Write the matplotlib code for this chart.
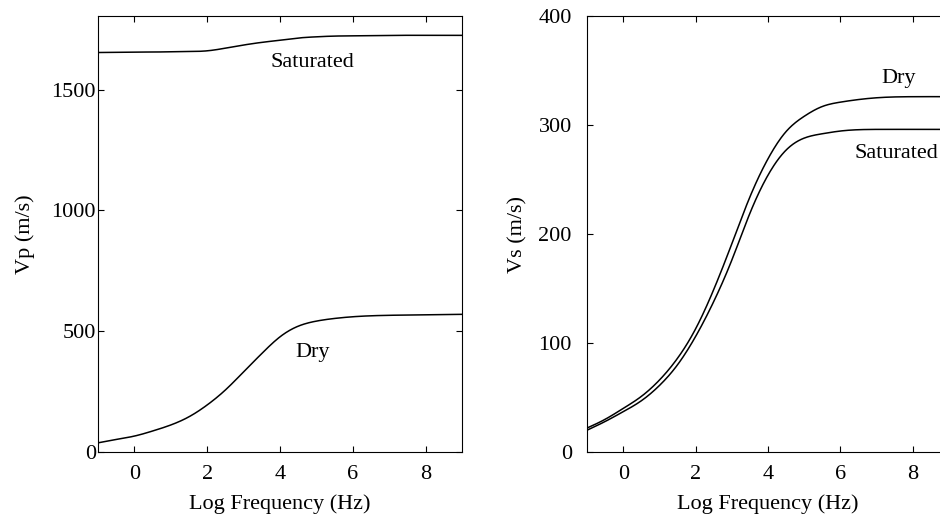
import matplotlib
matplotlib.use("Agg")
import matplotlib.pyplot as plt
import numpy as np

plt.rcParams["font.family"] = ["Liberation Serif", "DejaVu Serif"]
plt.rcParams["font.size"] = 16

# log frequency sample points (log10 Hz)
log_freq = [-1, -0.5, 0, 0.5, 1, 1.5, 2, 2.5, 3, 3.5, 4, 4.5, 5, 5.5, 6, 7, 8, 9]

# Vp (m/s)
vp_saturated = [1654, 1655, 1656, 1656, 1657, 1658, 1661, 1672, 1685, 1696, 1705, 1714,
                1719, 1722, 1723, 1725, 1725, 1725]
vp_dry = [38, 52, 66, 87, 112, 146, 195, 257, 332, 408, 477, 521, 542, 553, 560, 566, 568, 570]

# Vs (m/s)
vs_dry = [22, 30, 40, 51, 66, 86, 113, 149, 191, 234, 269, 294, 308, 317, 321, 325, 326, 326]
vs_saturated = [20, 28, 37, 47, 61, 80, 106, 138, 176, 219, 254, 277, 288, 292, 294.5, 296, 296, 296]

x_ticks = [0, 2, 4, 6, 8]


def smooth(x, y, n=400):
    # natural cubic spline through the read points
    x = np.asarray(x, float)
    y = np.asarray(y, float)
    k = len(x)
    h = np.diff(x)
    A = np.zeros((k, k))
    b = np.zeros(k)
    A[0, 0] = A[-1, -1] = 1
    for i in range(1, k - 1):
        A[i, i - 1] = h[i - 1]
        A[i, i] = 2 * (h[i - 1] + h[i])
        A[i, i + 1] = h[i]
        b[i] = 6 * ((y[i + 1] - y[i]) / h[i] - (y[i] - y[i - 1]) / h[i - 1])
    M = np.linalg.solve(A, b)
    xs = np.linspace(x[0], x[-1], n)
    j = np.clip(np.searchsorted(x, xs) - 1, 0, k - 2)
    a = x[j + 1] - xs
    c = xs - x[j]
    hj = h[j]
    ys = (M[j] * a**3 / (6 * hj) + M[j + 1] * c**3 / (6 * hj)
          + (y[j] / hj - M[j] * hj / 6) * a + (y[j + 1] / hj - M[j + 1] * hj / 6) * c)
    return xs, ys


def style(ax, ypad):
    ax.tick_params(direction="in", top=True, right=True, length=4, width=0.8)
    ax.tick_params(axis="x", pad=9)
    ax.tick_params(axis="y", pad=ypad)
    for s in ax.spines.values():
        s.set_linewidth(0.8)
    ax.set_xticks(x_ticks)
    ax.set_xlim(-1, 9)
    ax.set_xlabel("Log Frequency (Hz)", labelpad=8)


fig = plt.figure(figsize=(9.4, 5.14), dpi=100)

ax1 = fig.add_axes([0.1043, 0.1206, 0.3872, 0.8482])
ax1.plot(*smooth(log_freq, vp_saturated), color="black", lw=1.1)
ax1.plot(*smooth(log_freq, vp_dry), color="black", lw=1.1)
ax1.set_ylim(0, 1805)
ax1.set_yticks([0, 500, 1000, 1500])
ax1.set_ylabel("Vp (m/s)", labelpad=12)
ax1.text(4.9, 1614, "Saturated", ha="center", va="center")
ax1.text(4.9, 410, "Dry", ha="center", va="center")
style(ax1, 1.5)

ax2 = fig.add_axes([0.6245, 0.1206, 0.385, 0.8482])
ax2.plot(*smooth(log_freq, vs_dry), color="black", lw=1.1)
ax2.plot(*smooth(log_freq, vs_saturated), color="black", lw=1.1)
ax2.set_ylim(0, 400)
ax2.set_yticks([0, 100, 200, 300, 400])
ax2.set_ylabel("Vs (m/s)", labelpad=8)
ax2.text(7.6, 343, "Dry", ha="center", va="center")
ax2.text(7.55, 274, "Saturated", ha="center", va="center")
style(ax2, 11)

fig.savefig("out.png", dpi=100)
